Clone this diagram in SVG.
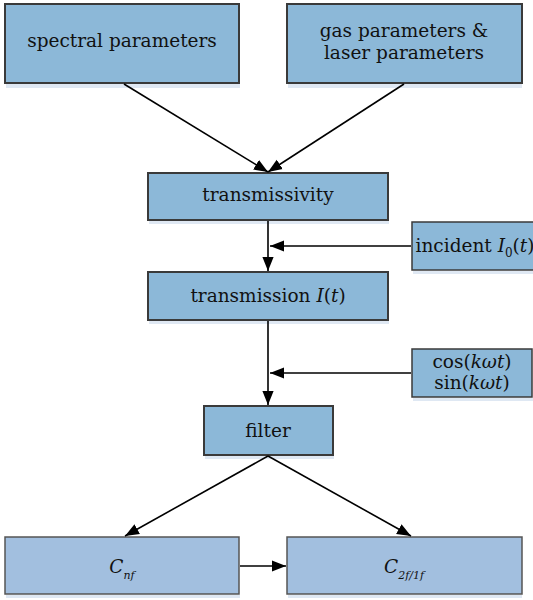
<svg xmlns="http://www.w3.org/2000/svg" width="533" height="600" viewBox="0 0 533 600">
<style>
.box{fill:#8cb8d8;stroke:#3a3a3a;stroke-width:2}
.box2{fill:#a2bfdf;stroke:#555;stroke-width:1.5}
.sh{fill:#dfe8f3}
.t{font-family:"DejaVu Serif","Liberation Serif",serif;font-size:18.5px;fill:#111;text-anchor:middle}
.i{font-style:italic}
.c{stroke:#000;stroke-width:1.6;fill:none}
</style>
<defs>
<marker id="b" viewBox="0 0 10 10" refX="10" refY="5" markerWidth="14" markerHeight="14" markerUnits="userSpaceOnUse" orient="auto"><path d="M0,1 L10,5 L0,9 z" fill="#000"/></marker>
</defs>
<g id="spectral">
<rect class="sh" x="6" y="84" width="234" height="4"/>
<rect class="box" x="5" y="4" width="234" height="79"/>
<text class="t" x="122" y="47">spectral parameters</text>
</g>
<g id="gas">
<rect class="sh" x="288" y="84" width="234" height="4"/>
<rect class="box" x="287" y="4" width="235" height="79"/>
<text class="t" x="404" y="37">gas parameters &amp;</text>
<text class="t" x="404" y="59">laser parameters</text>
</g>
<g id="transmissivity">
<rect class="sh" x="149" y="221" width="240" height="3"/>
<rect class="box" x="148" y="173" width="240" height="47"/>
<text class="t" x="268" y="201">transmissivity</text>
</g>
<g id="incident">
<rect class="sh" x="413" y="271" width="120" height="3"/>
<rect class="box" x="412" y="222" width="124" height="48" style="stroke-width:1.5"/>
<text class="t" x="475" y="252">incident <tspan class="i">I</tspan><tspan font-size="12" dy="5">0</tspan><tspan dy="-5">(</tspan><tspan class="i">t</tspan>)</text>
</g>
<g id="transmission">
<rect class="sh" x="149" y="321" width="240" height="3"/>
<rect class="box" x="148" y="272" width="240" height="48"/>
<text class="t" x="268" y="302">transmission <tspan class="i">I</tspan>(<tspan class="i">t</tspan>)</text>
</g>
<g id="cossin">
<rect class="sh" x="413" y="398" width="120" height="3"/>
<rect class="box" x="412" y="349" width="120" height="48" style="stroke-width:1.5"/>
<text class="t" x="472" y="368" font-size="17">cos(<tspan class="i">kωt</tspan>)</text>
<text class="t" x="472" y="389" font-size="17">sin(<tspan class="i">kωt</tspan>)</text>
</g>
<g id="filter">
<rect class="sh" x="205" y="456" width="129" height="3"/>
<rect class="box" x="204" y="406" width="129" height="49"/>
<text class="t" x="268" y="437">filter</text>
</g>
<g id="cnf">
<rect class="sh" x="6" y="595" width="234" height="3"/>
<rect class="box2" x="5" y="537" width="234" height="57"/>
<text class="t" x="122" y="573"><tspan class="i">C</tspan><tspan class="i" font-size="11" dy="6">nf</tspan></text>
</g>
<g id="c2f1f">
<rect class="sh" x="288" y="595" width="234" height="3"/>
<rect class="box2" x="287" y="537" width="235" height="57"/>
<text class="t" x="404" y="573"><tspan class="i">C</tspan><tspan class="i" font-size="11" dy="6">2f/1f</tspan></text>
</g>
<g id="connectors">
<line class="c" x1="124" y1="84" x2="268" y2="172" marker-end="url(#b)"/>
<line class="c" x1="404" y1="84" x2="268" y2="172" marker-end="url(#b)"/>
<line class="c" x1="268" y1="221" x2="268" y2="271" marker-end="url(#b)"/>
<line class="c" x1="411" y1="246" x2="270" y2="246" marker-end="url(#b)"/>
<line class="c" x1="268" y1="321" x2="268" y2="405" marker-end="url(#b)"/>
<line class="c" x1="411" y1="373" x2="270" y2="373" marker-end="url(#b)"/>
<line class="c" x1="268" y1="456" x2="125" y2="536" marker-end="url(#b)"/>
<line class="c" x1="268" y1="456" x2="411" y2="536" marker-end="url(#b)"/>
<line class="c" x1="240" y1="566" x2="286" y2="566" marker-end="url(#b)"/>
</g>
</svg>
